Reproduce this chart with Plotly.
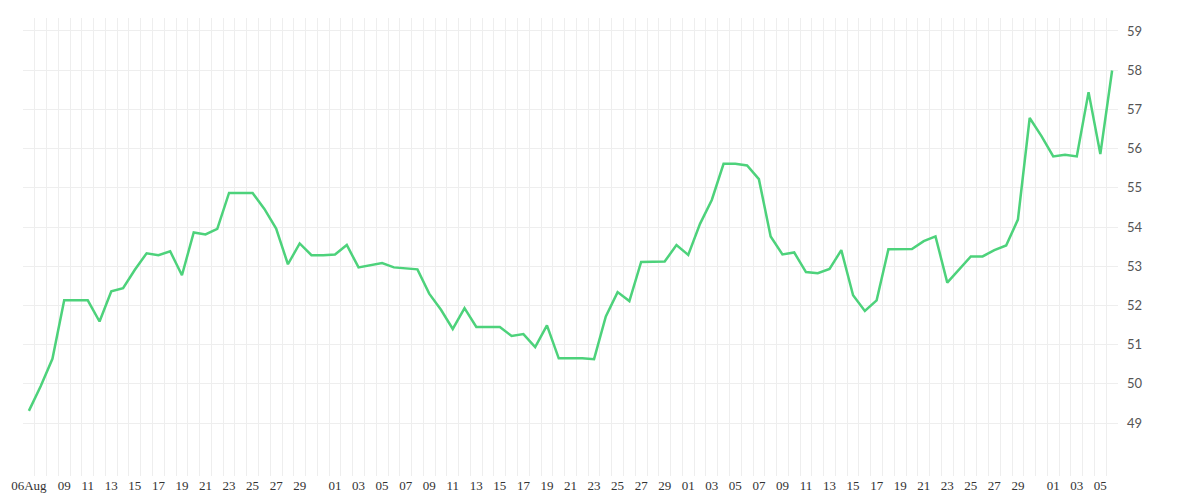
import pandas as pd
import plotly.graph_objects as go

# daily values, starting 6 Aug
start_day = "2024-08-06"
values = [
    49.31, 49.94, 50.64, 52.13, 52.13, 52.13, 51.59, 52.36, 52.44, 52.91,
    53.33, 53.28, 53.38, 52.77, 53.86, 53.81, 53.95, 54.87, 54.87, 54.87,
    54.46, 53.96, 53.05, 53.58,
    53.28, 53.28, 53.30, 53.54, 52.97, 53.03, 53.08, 52.97, 52.95, 52.92,
    52.30, 51.89, 51.40, 51.93, 51.45, 51.45, 51.45, 51.22, 51.27, 50.94,
    51.49, 50.65, 50.65, 50.65, 50.63, 51.72,
    52.34, 52.11, 53.11, 53.11, 53.12, 53.54, 53.29, 54.08, 54.69, 55.61,
    55.61, 55.57, 55.22, 53.76, 53.30, 53.35, 52.85, 52.82, 52.93, 53.41,
    52.26, 51.86, 52.13, 53.43, 53.43,
    53.44, 53.64, 53.76, 52.58, 52.92, 53.25, 53.25, 53.41, 53.53, 54.19,
    56.78, 56.32, 55.80, 55.84, 55.80, 57.44, 55.86, 57.99,
]
dates = pd.date_range(start_day, periods=len(values), freq="D")

# x labels: 06Aug then odd days, skipping the 31st
tick_days = [pd.Timestamp("2024-08-06")] + [
    d for d in pd.date_range("2024-08-09", "2024-11-05", freq="D")
    if d.day % 2 == 1 and d.day != 31
]
tick_text = ["06Aug"] + [d.strftime("%d") for d in tick_days[1:]]

fig = go.Figure()
fig.add_trace(go.Scatter(
    x=dates, y=values, mode="lines",
    line=dict(color="#4dd27b", width=2.5),
    hoverinfo="x+y", showlegend=False,
))

fig.update_layout(
    width=1200, height=500,
    margin=dict(l=15, r=90, t=10, b=32),
    plot_bgcolor="white", paper_bgcolor="white",
    xaxis=dict(
        range=["2024-08-05 12:00", "2024-11-06 12:00"],
        tickvals=tick_days, ticktext=tick_text,
        showgrid=False, zeroline=False, showline=False,
        automargin=False,
        tickfont=dict(family="Liberation Serif", size=13, color="#333"),
        minor=dict(showgrid=True, gridcolor="#eeeeee", gridwidth=1,
                   tick0="2024-08-05 12:00", dtick=86400000),
    ),
    yaxis=dict(
        side="right", range=[47.65, 59.33],
        tickvals=list(range(49, 60)),
        gridcolor="#eeeeee", zeroline=False, showline=False,
        automargin=False,
        tickfont=dict(family="Lato", size=13, color="#555"),
        ticks="", ticklabelstandoff=8,
    ),
)

fig.write_html("out.html")
